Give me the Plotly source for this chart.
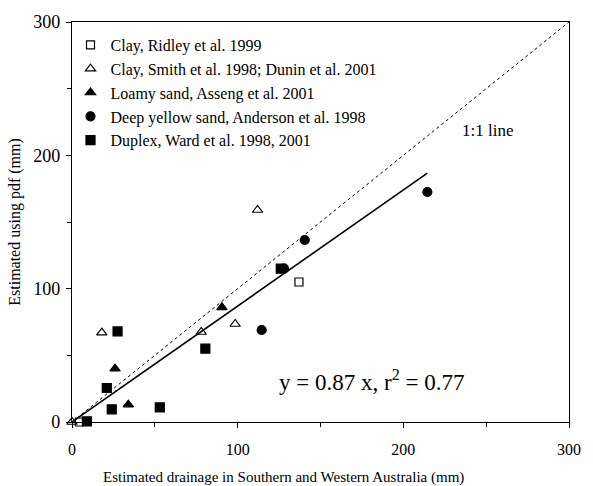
import plotly.graph_objects as go

# ---- data (mm) ----
clay_ridley_x = [4.5, 137]
clay_ridley_y = [0, 105]

clay_smith_x = [0, 18, 78, 98.5, 112]
clay_smith_y = [0, 67, 67.5, 73.5, 159]

loamy_x = [26, 34, 90.5]
loamy_y = [40, 13, 86]

deep_x = [114.5, 128, 140.5, 214.5]
deep_y = [69, 115, 136.5, 172.5]

duplex_x = [9, 21, 24, 27.5, 53, 80.5, 126]
duplex_y = [0.5, 25.5, 9.5, 68, 11, 55, 115]

slope = 0.87
fit_x = [0, 214.5]
one_x = [0, 300]
tick_vals = [0, 100, 200, 300]

names = ["Clay, Ridley et al. 1999",
         "Clay, Smith et al. 1998; Dunin et al. 2001",
         "Loamy sand, Asseng et al. 2001",
         "Deep yellow sand, Anderson et al. 1998",
         "Duplex, Ward et al. 1998, 2001"]

FONT = "Liberation Serif"

fig = go.Figure()

fig.add_trace(go.Scatter(x=one_x, y=one_x, mode="lines",
                         line=dict(color="black", width=1, dash="dot"),
                         showlegend=False, hoverinfo="skip"))
fig.add_trace(go.Scatter(x=fit_x, y=[slope * v for v in fit_x], mode="lines",
                         line=dict(color="black", width=1.6),
                         showlegend=False, hoverinfo="skip"))

series = [
    (clay_ridley_x, clay_ridley_y, "square-open", 8),
    (clay_smith_x, clay_smith_y, "triangle-up-open", 9),
    (loamy_x, loamy_y, "triangle-up", 9),
    (deep_x, deep_y, "circle", 9),
    (duplex_x, duplex_y, "square", 9),
]
for i, (xs, ys, sym, sz) in enumerate(series):
    fig.add_trace(go.Scatter(x=xs, y=ys, mode="markers", name=names[i],
                             legendgroup=f"g{i}", cliponaxis=False,
                             marker=dict(symbol=sym, size=sz, color="black",
                                         line=dict(color="black", width=1.2))))

fig.add_annotation(x=251, y=219, text="1:1 line", showarrow=False,
                   font=dict(family=FONT, size=17, color="black"))
fig.add_annotation(x=181, y=31, text="y = 0.87 x, r<sup>2</sup> = 0.77", showarrow=False,
                   font=dict(family=FONT, size=23, color="black"))
fig.add_annotation(xref="paper", yref="paper", x=0.426, y=-0.139,
                   xanchor="center", yanchor="middle", showarrow=False,
                   text="Estimated drainage in Southern and Western Australia (mm)",
                   font=dict(family=FONT, size=15, color="black"))

axis_common = dict(range=[0, 300], showgrid=False, zeroline=False,
                   showline=True, linecolor="black", linewidth=1.2, mirror=True,
                   ticks="outside", ticklen=5, tickcolor="black",
                   tickvals=tick_vals,
                   minor=dict(ticks="outside", ticklen=4, tickcolor="black",
                              dtick=50, showgrid=False))

fig.update_xaxes(**axis_common, ticklabelstandoff=8,
                 tickfont=dict(family=FONT, size=16, color="black"))
fig.update_yaxes(**axis_common, ticklabelstandoff=2,
                 tickfont=dict(family=FONT, size=18, color="black"),
                 title=dict(text="Estimated using pdf (mm)",
                            font=dict(family=FONT, size=16, color="black"), standoff=8))

fig.update_layout(
    width=593, height=486,
    margin=dict(l=72, r=14, t=20, b=64),
    paper_bgcolor="white", plot_bgcolor="white",
    font=dict(family=FONT, color="black"),
    legend=dict(x=-0.003, y=0.985, xanchor="left", yanchor="top",
                bgcolor="rgba(0,0,0,0)", borderwidth=0,
                font=dict(family=FONT, size=16, color="black"),
                traceorder="grouped", tracegroupgap=0, itemwidth=30),
)

fig.write_html("out.html")
